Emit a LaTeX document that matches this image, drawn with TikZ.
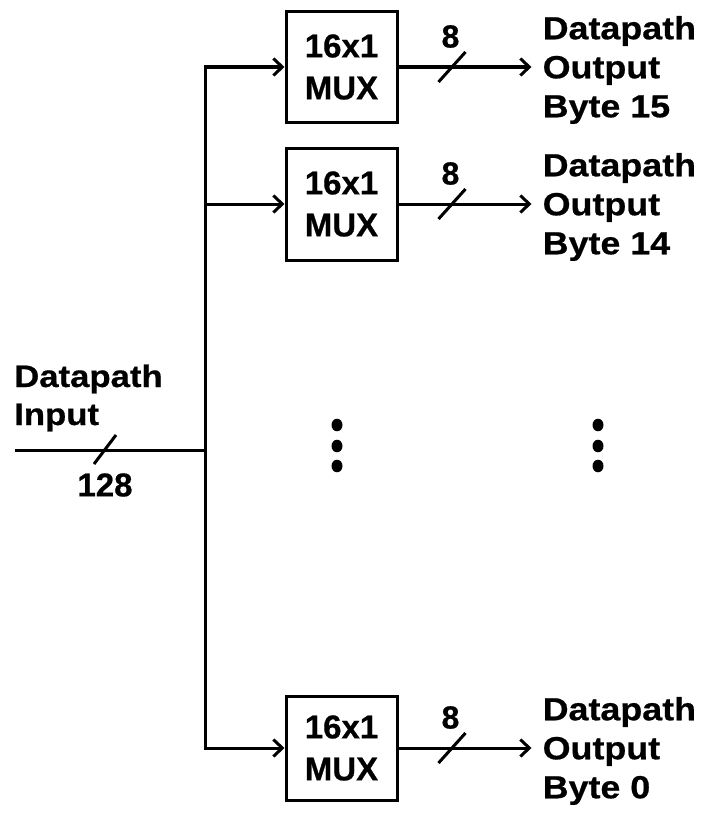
\documentclass[tikz,border=0pt]{standalone}
\usepackage{fontspec}
\setmainfont{Liberation Sans}
\newfontfamily\lblfont{Liberation Sans Bold}[FakeStretch=1.12,FakeBold=0.6]
\newfontfamily\muxfont{Liberation Sans Bold}[FakeBold=0.6]
\usetikzlibrary{arrows.meta}
\tikzset{
  wire/.style={line width=3pt, line cap=butt},
  arr/.style={wire, -{Straight Barb[length=9pt,width=17pt,line width=3pt]}},
  muxbox/.style={draw, line width=3pt, minimum width=111pt, align=center,
    font=\muxfont\fontsize{33pt}{42pt}\selectfont, inner sep=0pt},
  outlbl/.style={anchor=west, align=left, inner sep=0pt,
    font=\lblfont\fontsize{32pt}{39pt}\selectfont},
  buslbl/.style={inner sep=0pt, font=\muxfont\fontsize{32pt}{34pt}\selectfont},
  dotc/.style={fill=black, draw=none},
}
\begin{document}
\begin{tikzpicture}[x=1pt,y=-1pt]
\useasboundingbox (0,0) rectangle (704,816);
% mux boxes
\node[muxbox, minimum height=110pt] (m1) at (341.5,67) {16x1\\MUX};
\node[muxbox, minimum height=112pt] (m2) at (341.5,204) {16x1\\MUX};
\node[muxbox, minimum height=104pt] (m3) at (341.5,748) {16x1\\MUX};
% input
\coordinate (inL) at (15,450);
\coordinate (bus) at (205,450);
\draw[wire] (inL) -- (bus);
\draw[wire] (94,464) -- (116,435);
\node[anchor=base west, inner sep=0pt, align=left, font=\lblfont\fontsize{31pt}{38pt}\selectfont] (inlbl) at (14,425) {Datapath\\Input};
\node[buslbl, font=\muxfont\fontsize{33pt}{34pt}\selectfont] (w128) at (105,485) {128};
% bus and input arrows
\draw[arr] (m3.west -| bus) |- (m1.west);
\draw[arr] (m1.west -| bus) |- (m3.west);
\draw[arr] (m2.west -| bus) -- (m2.west);
% outputs
\foreach \m/\b in {m1/15, m2/14, m3/0}{
  \coordinate (\m o) at ([xshift=133pt]\m.east);
  \draw[arr] (\m.east) -- (\m o);
  \draw[wire] ([xshift=40pt,yshift=-15pt]\m.east) -- ([xshift=67pt,yshift=15pt]\m.east);
  \node[buslbl] (\m w) at ([xshift=52pt,yshift=30.5pt]\m.east) {8};
  \node[outlbl] (\m t) at ([xshift=11pt,yshift=-3pt]\m o) {Datapath\\Output\\Byte \b};
}
% dots
\foreach \x/\n in {337/a, 598/b}{
  \foreach \y/\k in {425/1, 446/2, 466/3}{
    \fill[dotc] (\x,\y) ellipse [x radius=5.5pt, y radius=6.3pt];
  }
}
\end{tikzpicture}
\end{document}
